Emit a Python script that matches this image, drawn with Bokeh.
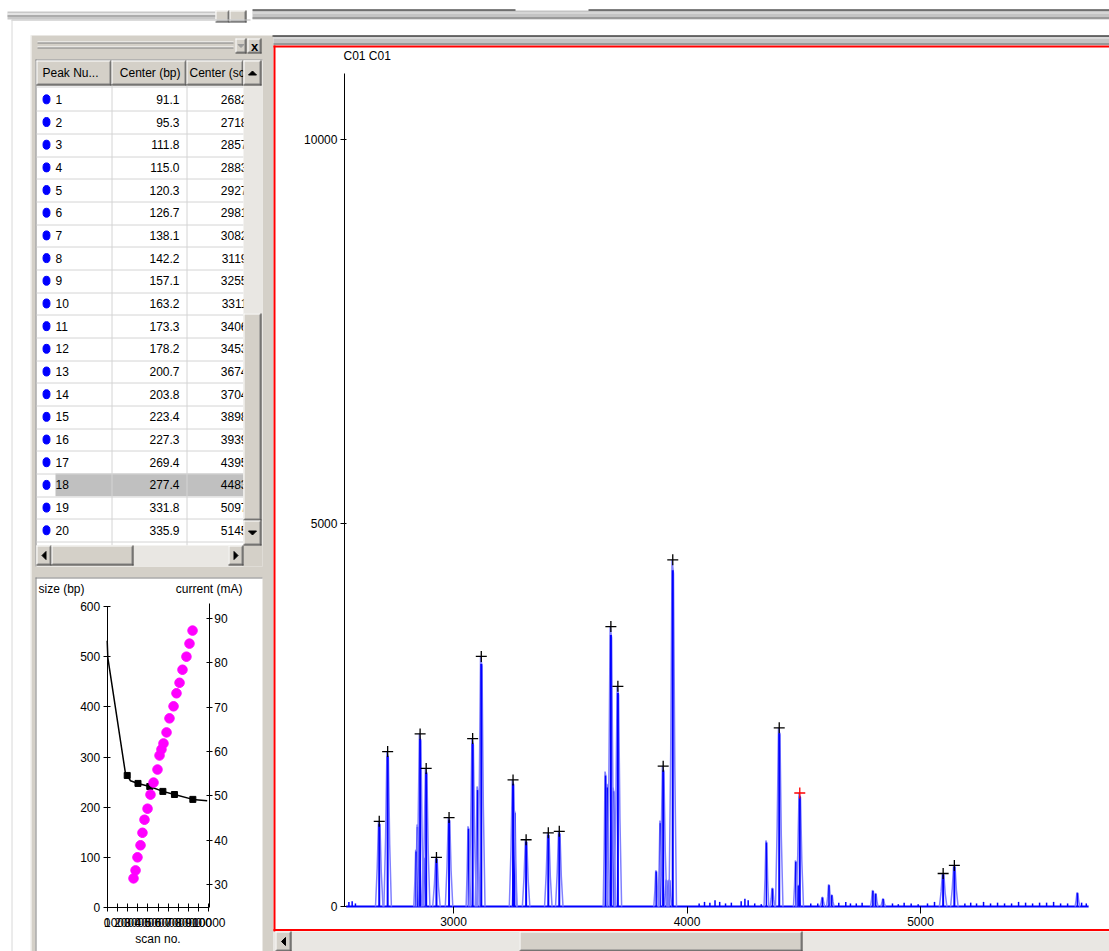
from bokeh.plotting import figure
from bokeh.models import Range1d, LinearAxis, FixedTicker, ColumnDataSource
from bokeh.core.properties import value, field
from bokeh.embed import file_html
from bokeh.resources import INLINE

W, H = 1109, 951
FONT = "Liberation Sans"
FACE = "#d4d0c8"
TRACK = "#e9e7e3"
BLUE = "#0000ff"
LIGHT_BLUE = "#8080ff"

# ---------------- peak table ----------------
peak_no = list(range(1, 21))
center_bp = [91.1, 95.3, 111.8, 115.0, 120.3, 126.7, 138.1, 142.2, 157.1, 163.2,
             173.3, 178.2, 200.7, 203.8, 223.4, 227.3, 269.4, 277.4, 331.8, 335.9]
center_scan = [2682, 2718, 2857, 2883, 2927, 2981, 3082, 3119, 3255, 3311,
               3406, 3453, 3674, 3704, 3898, 3939, 4395, 4483, 5097, 5145]
peak_height = [1110, 2020, 2250, 1800, 640, 1160, 2190, 3260, 1650, 870,
               960, 980, 3650, 2870, 1830, 4520, 2330, 1480, 430, 535]
selected_peak = 18

# unlabelled shoulders and side peaks of the trace
shoulder_scan = [2840, 2846, 2872, 3064, 3103, 3262, 3651, 3659, 3685, 3868, 3886,
                 3912, 3925, 4340, 4366, 4466, 4476, 4580, 4608, 4620, 4796, 4808,
                 4840, 5672]
shoulder_height = [740, 1070, 650, 1045, 1565, 1260, 1760, 1600, 1550, 470, 1120,
                   350, 350, 860, 240, 600, 280, 120, 285, 150, 210, 170,
                   100, 180]

# baseline ripple
noise_scan = [2552, 2566, 2580,
              4052, 4075, 4098, 4120, 4140, 4165, 4190,
              4232, 4248, 4262, 4290, 4318,
              4530, 4560, 4650, 4680, 4700, 4725, 4750,
              4880, 4905, 4930, 4960, 4990, 5030, 5060,
              5190, 5215, 5240, 5270, 5300, 5330, 5360, 5390, 5420, 5450,
              5480, 5510, 5540, 5570, 5600, 5630, 5690, 5710]
noise_height = [60, 70, 40,
                40, 60, 50, 80, 60, 40, 50,
                70, 100, 80, 40, 30,
                40, 40, 50, 60, 40, 40, 50,
                40, 30, 50, 40, 30, 40, 60,
                40, 50, 40, 60, 40, 50, 40, 40, 60, 50,
                40, 50, 50, 60, 40, 40, 50, 40]
trace_start, trace_end = 2540, 5720

main_y_ticks = [0, 5000, 10000]
main_x_ticks = [3000, 4000, 5000]

# ---------------- calibration / current mini chart ----------------
std_scan = [2590, 2790, 2980, 3280, 3470, 3670, 3970, 4260, 4560, 4950, 5150,
            5340, 5540, 5840, 6130, 6530, 6820, 7120, 7410, 7800, 8100, 8400]
std_size = [58, 74, 100, 124, 149, 175, 197, 225, 249, 275, 303,
            315, 327, 349, 377, 401, 427, 448, 474, 500, 526, 552]
current_scan = [0, 60, 1800, 1970, 2290, 3030, 4190, 5480, 6620, 8430, 9840]
current_ma = [85.0, 81.2, 55.0, 54.6, 53.4, 52.8, 52.1, 51.0, 50.3, 49.2, 48.9]
current_marks = [3, 5, 6, 7, 8, 9]
size_ticks = [0, 100, 200, 300, 400, 500, 600]
current_ticks = [30, 40, 50, 60, 70, 80, 90]
scan_ticks = list(range(0, 10001, 1000))


def view_range(v0, p0, v1, p1, p_start, p_end):
    """Range whose ends land on canvas pixels p_start/p_end, given two anchors."""
    k = (p1 - p0) / (v1 - v0)
    return Range1d(start=v0 + (p_start - p0) / k, end=v0 + (p_end - p0) / k)


p = figure(width=W, height=H,
           x_range=view_range(3000, 453, 5000, 920, 0, W),
           y_range=view_range(0, 906, 10000, 139, H, 0),
           x_axis_type=None, y_axis_type=None,
           output_backend="svg", toolbar_location=None,
           min_border=0, outline_line_color=None,
           background_fill_color="white", border_fill_color="white")
p.extra_x_ranges = {"px": Range1d(0, W),
                    "scan": view_range(0, 106.7, 10000, 208.3, 0, W)}
p.extra_y_ranges = {"px": Range1d(H, 0),
                    "bp": view_range(0, 907, 600, 606, H, 0),
                    "ma": view_range(30, 884, 90, 618, H, 0)}
PX = dict(x_range_name="px", y_range_name="px")


class Layer:
    """Window chrome: rectangles, 1px edges and arrow heads in canvas pixels."""

    def __init__(self):
        self.q = {"l": [], "r": [], "t": [], "b": [], "fill": []}
        self.s = {"x0": [], "y0": [], "x1": [], "y1": [], "color": [], "w": []}
        self.t = {"xs": [], "ys": [], "color": []}

    def rect(self, l, r, t, b, fill):
        for k, v in zip("l r t b fill".split(), (l, r, t, b, fill)):
            self.q[k].append(v)

    def line(self, x0, y0, x1, y1, color, w=1):
        for k, v in zip("x0 y0 x1 y1 color w".split(), (x0, y0, x1, y1, color, w)):
            self.s[k].append(v)

    def bevel(self, l, r, t, b, fill=FACE):
        self.rect(l, r, t, b, fill)
        self.line(l, t + 0.5, r - 1, t + 0.5, "white")
        self.line(l + 0.5, t, l + 0.5, b - 1, "white")
        self.line(l + 1, b - 1.5, r - 1, b - 1.5, "#808080")
        self.line(r - 1.5, t + 1, r - 1.5, b - 1, "#808080")
        self.line(l, b - 0.5, r, b - 0.5, "#404040")
        self.line(r - 0.5, t, r - 0.5, b, "#404040")

    def arrow(self, cx, cy, d, s=4, color="black"):
        if d == "up":
            xs, ys = [cx - s, cx + s, cx], [cy + s / 2, cy + s / 2, cy - s / 2]
        elif d == "down":
            xs, ys = [cx - s, cx + s, cx], [cy - s / 2, cy - s / 2, cy + s / 2]
        elif d == "left":
            xs, ys = [cx + s / 2, cx + s / 2, cx - s / 2], [cy - s, cy + s, cy]
        else:
            xs, ys = [cx - s / 2, cx - s / 2, cx + s / 2], [cy - s, cy + s, cy]
        self.t["xs"].append(xs)
        self.t["ys"].append(ys)
        self.t["color"].append(color)

    def draw(self):
        if self.q["l"]:
            p.quad(left="l", right="r", top="t", bottom="b", fill_color=field("fill"),
                   line_color=None, source=ColumnDataSource(self.q), **PX)
        if self.s["x0"]:
            p.segment(x0="x0", y0="y0", x1="x1", y1="y1", line_color=field("color"),
                      line_width=field("w"), source=ColumnDataSource(self.s), **PX)
        if self.t["xs"]:
            p.patches(xs="xs", ys="ys", fill_color=field("color"), line_color=field("color"),
                      source=ColumnDataSource(self.t), **PX)


def label(x, y, text, align="left", size="12px", color="black", style="normal"):
    p.text(x=[x], y=[y], text=[text], text_align=align, text_baseline="middle",
           text_font=value(FONT), text_font_size=size, text_color=color,
           text_font_style=style, **PX)


# ---------------- window chrome (back) ----------------
back = Layer()
# top strip
back.rect(7, 215, 11, 19, "#c8c8c8")
back.line(7, 13.5, 215, 13.5, "white")
back.line(7, 15.5, 215, 15.5, "#909090")
back.bevel(215, 229, 10, 22)
back.bevel(229, 246, 10, 22)
back.rect(11, 252, 19, 35, "white")
back.line(11, 19.5, 250, 19.5, "#b8b8b8")
back.line(11.5, 19, 11.5, H, "#d8d8d8")
back.rect(252, W, 10, 19, "#c4c4c4")
back.line(252, 9.5, 515, 9.5, "black")
back.line(588, 9.5, W, 9.5, "black")
back.line(252, 12.5, W, 12.5, "#e8e8e8")
back.line(252, 17.5, W, 17.5, "#707070")

# left docked panel
back.rect(30, 273, 35, H, FACE)
back.line(30.5, 35, 30.5, H, "white")
for yy, col in ((41.5, "white"), (42.5, "#808080"), (46.5, "white"), (47.5, "#808080")):
    back.line(37, yy, 233, yy, col)
back.bevel(235, 246, 38, 53)
back.arrow(240.5, 45.5, "down", 3, "#9a9a9a")
back.bevel(247, 261, 38, 53)

# table body
back.rect(35, 262, 59, 566, "white")
back.line(35, 59.5, 262, 59.5, "#808080")
back.line(35.5, 59, 35.5, 566, "#808080")
back.bevel(36, 111, 60, 85)
back.bevel(111, 186, 60, 85)
back.bevel(186, 243, 60, 85)
ROW0, PITCH = 87.5, 22.68
row_top = [ROW0 + i * PITCH for i in range(len(peak_no))]
row_mid = [t + PITCH / 2 for t in row_top]
sel = peak_no.index(selected_peak)
back.rect(55, 243, row_top[sel], row_top[sel] + PITCH, "#c0c0c0")
for t in row_top[1:] + [row_top[-1] + PITCH]:
    back.line(36, round(t) + 0.5, 243, round(t) + 0.5, "#d4d4d4")
back.line(36, 86.5, 243, 86.5, "#d4d4d4")
back.line(111.5, 85, 111.5, 545, "#d4d4d4")
back.line(186.5, 85, 186.5, 545, "#d4d4d4")

# mini chart pane
back.rect(35, 262, 577, H, "white")
back.line(35, 577.5, 262, 577.5, "#808080")
back.line(35.5, 577, 35.5, H, "#808080")

# right trace pane
back.rect(273, W, 35, 45, "#c4c4c4")
back.line(272, 35.5, W, 35.5, "black")
back.line(273, 37.5, W, 37.5, "#ececec")
back.line(273, 43.5, W, 43.5, "#6c6c6c")
back.rect(273, W, 45, 931, "white")
back.line(273, 46, W, 46, "#ff0000", 2)
back.line(274, 45, 274, 931, "#ff0000", 2)
back.line(273, 929.5, W, 929.5, "#ff0000", 2)
back.rect(273, W, 931, H, TRACK)
back.bevel(275, 291, 931, H)
back.arrow(283, 941, "left", 4)
back.bevel(519, 802, 931, H)
back.draw()

# ---------------- table texts ----------------
p.ellipse(x=[46] * len(row_mid), y=row_mid, width=7, height=9, fill_color=BLUE,
          line_color=BLUE, **PX)
label(42, 72.5, "Peak Nu...")
label(180, 72.5, "Center (bp)", "right")
label(189, 72.5, "Center (scan)")
src_rows = ColumnDataSource(dict(
    y=row_mid,
    no=[str(n) for n in peak_no],
    bp=[f"{v:.1f}" for v in center_bp],
    sc=[str(v) for v in center_scan]))
common = dict(source=src_rows, text_baseline="middle", text_font=value(FONT),
              text_font_size="12px", text_color="black", **PX)
p.text(x=55, y="y", text="no", text_align="left", **common)
p.text(x=179, y="y", text="bp", text_align="right", **common)
p.text(x=247, y="y", text="sc", text_align="right", **common)

# ---------------- window chrome (front: scrollbars over the table) ----------------
front = Layer()
front.rect(243, 262, 60, 545, TRACK)
front.bevel(243, 261, 60, 85)
front.arrow(252, 72.5, "up", 4)
front.bevel(243, 261, 313, 520)
front.bevel(243, 261, 520, 545)
front.arrow(252, 532.5, "down", 4)
front.rect(36, 243, 545, 566, TRACK)
front.bevel(36, 51, 545, 565)
front.arrow(43.5, 555, "left", 4)
front.bevel(51, 133, 545, 565)
front.bevel(228, 243, 545, 565)
front.arrow(235.5, 555, "right", 4)
front.rect(243, 262, 545, 566, FACE)
front.draw()
label(254, 45.5, "x", "center", "13px", "black", "bold")

# ---------------- mini chart ----------------
label(38, 588, "size (bp)")
label(242, 588, "current (mA)", "right")
p.line(current_scan, current_ma, line_color="black", line_width=1.5,
       x_range_name="scan", y_range_name="ma")
p.scatter([current_scan[i] for i in current_marks], [current_ma[i] for i in current_marks],
          marker="square", size=6, fill_color="black", line_color="black",
          x_range_name="scan", y_range_name="ma")
p.scatter(std_scan, std_size, marker="circle", size=9.5, fill_color="#ff00ff",
          line_color="#ff00ff", x_range_name="scan", y_range_name="bp")


def style_axis(ax, tick_in, tick_out, standoff, size="12px"):
    ax.major_tick_in = tick_in
    ax.major_tick_out = tick_out
    ax.minor_tick_line_color = None
    ax.axis_line_color = "black"
    ax.major_tick_line_color = "black"
    ax.major_label_text_font = FONT
    ax.major_label_text_font_size = size
    ax.major_label_text_color = "black"
    ax.major_label_standoff = standoff


size_axis = LinearAxis(x_range_name="scan", y_range_name="bp", fixed_location=0,
                       bounds=(0, 600), ticker=FixedTicker(ticks=size_ticks))
style_axis(size_axis, 3, 4, 3)
p.add_layout(size_axis, "left")

current_axis = LinearAxis(x_range_name="scan", y_range_name="ma", fixed_location=10050,
                          bounds=(24.8, 93.4), ticker=FixedTicker(ticks=current_ticks))
style_axis(current_axis, 3, 3, 2)
p.add_layout(current_axis, "right")

scan_axis = LinearAxis(x_range_name="scan", y_range_name="bp", fixed_location=0,
                       bounds=(0, 10000), ticker=FixedTicker(ticks=scan_ticks),
                       axis_label="scan no.")
style_axis(scan_axis, 4, 4, 6)
scan_axis.axis_label_text_font = FONT
scan_axis.axis_label_text_font_size = "12px"
scan_axis.axis_label_text_font_style = "normal"
scan_axis.axis_label_text_color = "black"
scan_axis.axis_label_standoff = 2
p.add_layout(scan_axis, "below")

# ---------------- electropherogram ----------------
label(343, 55, "C01 C01")


def spike_paths(centers, heights, hw):
    xs, ys = [], []
    for c, h in zip(centers, heights):
        xs.append([c - hw, c - 0.55 * hw, c - 0.2 * hw, c + 0.2 * hw, c + 0.55 * hw, c + hw])
        ys.append([0, 0.45 * h, h, 0.96 * h, 0.4 * h, 0])
    return xs, ys


p.line([trace_start, trace_end], [0, 0], line_color=BLUE, line_width=2)
# low ripple: plain short strokes on the baseline
p.segment(x0=noise_scan, y0=[0] * len(noise_scan), x1=noise_scan, y1=noise_height,
          line_color=BLUE, line_width=1.5)
for cs, hs, hw, lw in ((shoulder_scan, shoulder_height, 10, 1.5),
                       (center_scan, peak_height, 16, 2)):
    xs, ys = spike_paths(cs, hs, hw)
    p.multi_line(xs, ys, line_color=LIGHT_BLUE, line_width=1.5)
    p.segment(x0=cs, y0=[0] * len(cs), x1=cs, y1=[0.97 * h for h in hs],
              line_color=BLUE, line_width=lw)

p.scatter(center_scan, peak_height, marker="cross", size=11, line_width=1.3,
          line_color=["#ff0000" if n == selected_peak else "black" for n in peak_no])

trace_y_axis = LinearAxis(fixed_location=2533, bounds=(0, 10860),
                          ticker=FixedTicker(ticks=main_y_ticks))
style_axis(trace_y_axis, 2, 4, 3)
p.add_layout(trace_y_axis, "left")

trace_x_axis = LinearAxis(fixed_location=0, bounds=(2533, trace_end),
                          ticker=FixedTicker(ticks=main_x_ticks))
style_axis(trace_x_axis, 0, 7, 3)
trace_x_axis.axis_line_color = None
p.add_layout(trace_x_axis, "below")

open("out.html", "w").write(file_html(p, INLINE))
